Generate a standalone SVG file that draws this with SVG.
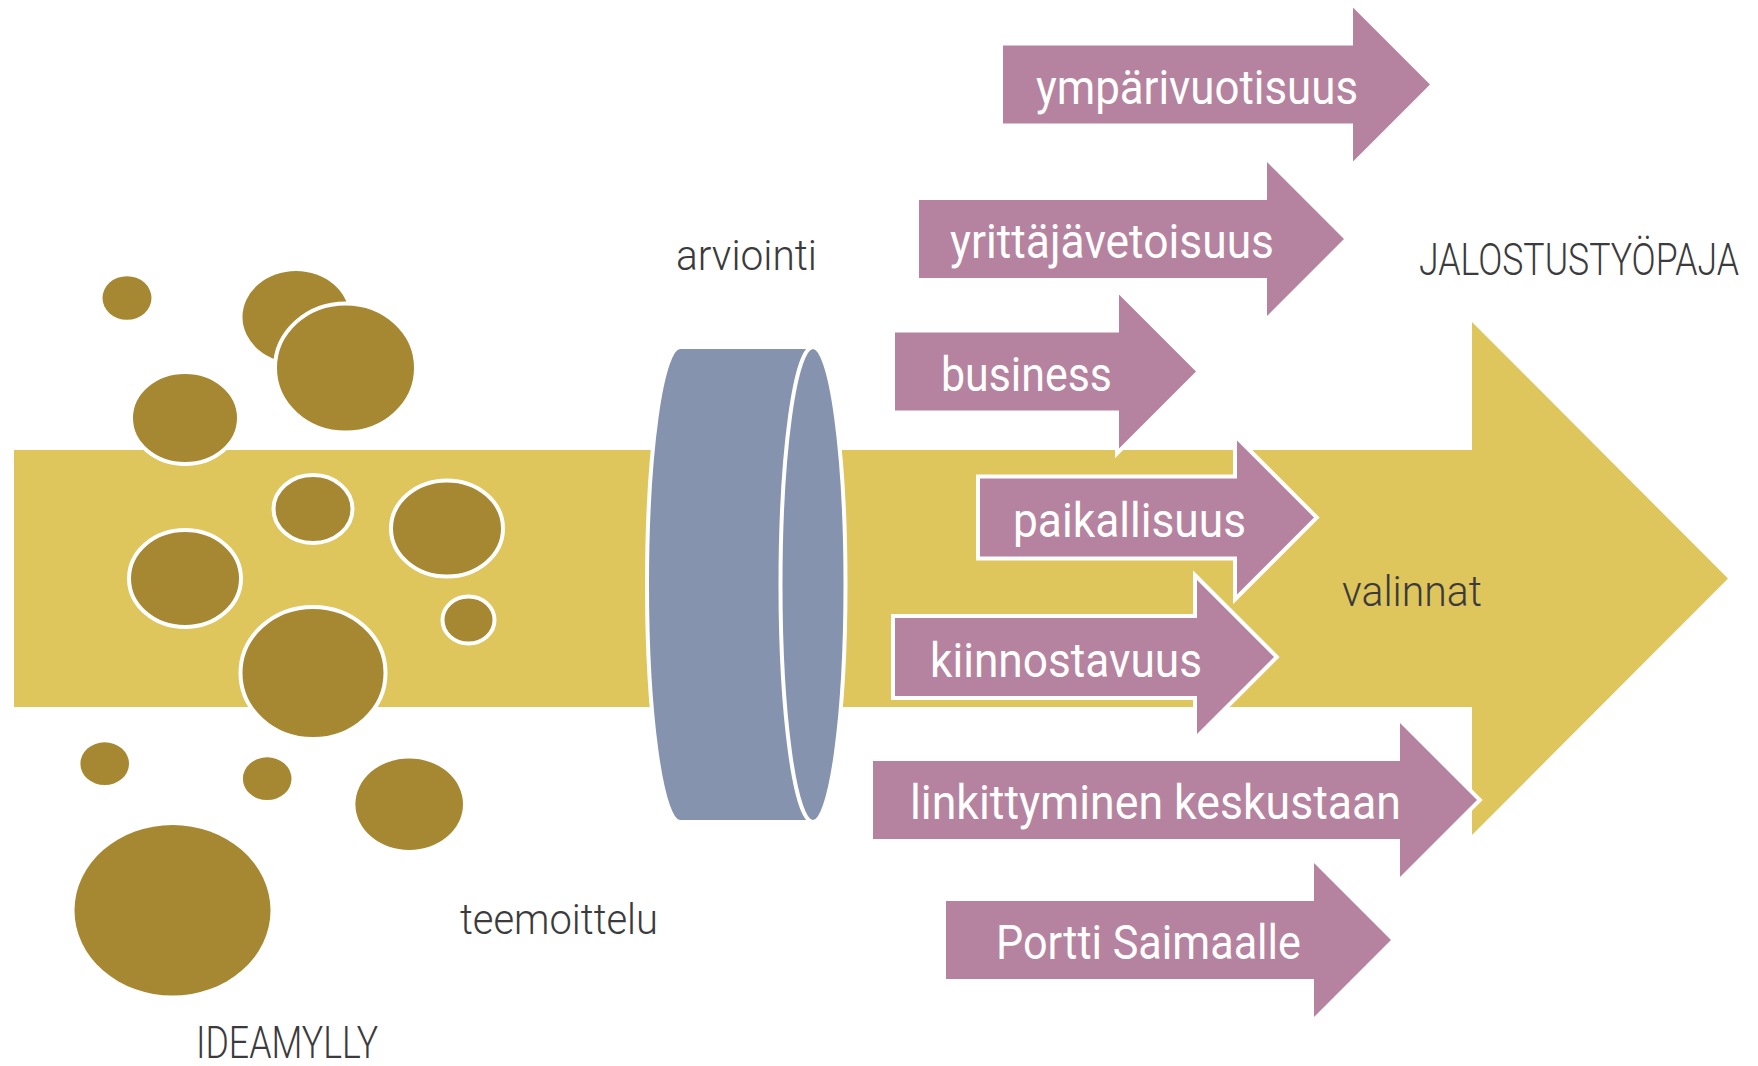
<svg xmlns="http://www.w3.org/2000/svg" width="1758" height="1066" viewBox="0 0 1758 1066">
<style>
.band{fill:#dec55c}
.dot{fill:#a68732}
.dotw{fill:#a68732;stroke:#ffffff;stroke-width:4}
.cyl{fill:#8693ae;stroke:#ffffff;stroke-width:4}
.pa{fill:#b5839f;stroke:#ffffff;stroke-width:8;paint-order:stroke;stroke-linejoin:miter;stroke-miterlimit:10}
.lw{fill:#ffffff;font-family:Roboto,"Liberation Sans",sans-serif;font-size:48px;font-weight:400}
.ld{fill:#3b3b3d;font-family:Roboto,"Liberation Sans",sans-serif;font-size:42px;font-weight:300}
.lc{fill:#3b3b3d;font-family:Roboto,"Liberation Sans",sans-serif;font-size:44px;font-weight:300}
</style>
<rect width="1758" height="1066" fill="#ffffff"/>

<g id="main-arrow">
<path class="band" d="M14,450 H1472 V322 L1728,578.5 L1472,835 V707 H14 Z"/>
</g>

<g id="ideamylly-circles">
<ellipse class="dot" cx="127" cy="298" rx="24.5" ry="21.8"/>
<ellipse class="dot" cx="296" cy="317" rx="53.5" ry="46"/>
<ellipse class="dotw" cx="345.5" cy="368" rx="70.5" ry="64.5"/>
<ellipse class="dotw" cx="185" cy="418" rx="54" ry="46"/>
<ellipse class="dotw" cx="313" cy="509" rx="39.5" ry="34"/>
<ellipse class="dotw" cx="447" cy="528.5" rx="56" ry="48"/>
<ellipse class="dotw" cx="185" cy="578.5" rx="56" ry="48.5"/>
<ellipse class="dotw" cx="468.5" cy="620" rx="26" ry="23.5"/>
<ellipse class="dotw" cx="313" cy="673" rx="72.5" ry="66"/>
<ellipse class="dot" cx="104.7" cy="763.7" rx="24.3" ry="21.4"/>
<ellipse class="dot" cx="267.2" cy="778.7" rx="24.3" ry="21.4"/>
<ellipse class="dot" cx="409.2" cy="804.2" rx="53.8" ry="45.8"/>
<ellipse class="dot" cx="172.5" cy="910.3" rx="98" ry="85.3"/>
</g>

<g id="arviointi-cylinder">
<path class="cyl" d="M680,347 H813 V822 H680 A33,237.5 0 0 1 680,347 Z"/>
<ellipse class="cyl" cx="813" cy="584.5" rx="32.5" ry="237.5"/>
</g>

<g id="arrow-ymparivuotisuus">
<polygon class="pa" points="1003,45.5 1353,45.5 1353,7.5 1430,84.5 1353,161.5 1353,123.5 1003,123.5"/>
<text class="lw" x="1036" y="104" textLength="322" lengthAdjust="spacingAndGlyphs">ympärivuotisuus</text>
</g>

<g id="arrow-yrittajavetoisuus">
<polygon class="pa" points="919,200 1267,200 1267,162 1344,239 1267,316 1267,278 919,278"/>
<text class="lw" x="950" y="258" textLength="324" lengthAdjust="spacingAndGlyphs">yrittäjävetoisuus</text>
</g>

<g id="arrow-business">
<polygon class="pa" points="895,332.5 1119,332.5 1119,294.5 1196,371.5 1119,448.5 1119,410.5 895,410.5"/>
<text class="lw" x="941" y="391" textLength="171" lengthAdjust="spacingAndGlyphs">business</text>
</g>

<g id="arrow-paikallisuus">
<polygon class="pa" points="980,478.5 1237,478.5 1237,440.5 1314,517.5 1237,594.5 1237,556.5 980,556.5"/>
<text class="lw" x="1013" y="537" textLength="233" lengthAdjust="spacingAndGlyphs">paikallisuus</text>
</g>

<g id="arrow-kiinnostavuus">
<polygon class="pa" points="895,618 1197,618 1197,580 1274,657 1197,734 1197,696 895,696"/>
<text class="lw" x="930" y="677" textLength="272" lengthAdjust="spacingAndGlyphs">kiinnostavuus</text>
</g>

<g id="arrow-linkittyminen">
<polygon class="pa" points="873,761 1400,761 1400,723 1477,800 1400,877 1400,839 873,839"/>
<text class="lw" x="910" y="819" textLength="491" lengthAdjust="spacingAndGlyphs">linkittyminen keskustaan</text>
</g>

<g id="arrow-portti">
<polygon class="pa" points="946,901 1314,901 1314,863 1391,940 1314,1017 1314,979 946,979"/>
<text class="lw" x="996" y="959" textLength="305" lengthAdjust="spacingAndGlyphs">Portti Saimaalle</text>
</g>

<g id="labels">
<text class="ld" x="676" y="270" textLength="141" lengthAdjust="spacingAndGlyphs">arviointi</text>
<text class="lc" x="0" y="0" transform="matrix(0.79,0,0,1,1419,275)" textLength="405" lengthAdjust="spacingAndGlyphs">JALOSTUSTYÖPAJA</text>
<text class="ld" x="1342" y="606" textLength="140" lengthAdjust="spacingAndGlyphs">valinnat</text>
<text class="ld" x="460" y="934" textLength="198" lengthAdjust="spacingAndGlyphs">teemoittelu</text>
<text class="lc" x="196" y="1058" textLength="182" lengthAdjust="spacingAndGlyphs">IDEAMYLLY</text>
</g>

<g id="connectors"/>
</svg>
